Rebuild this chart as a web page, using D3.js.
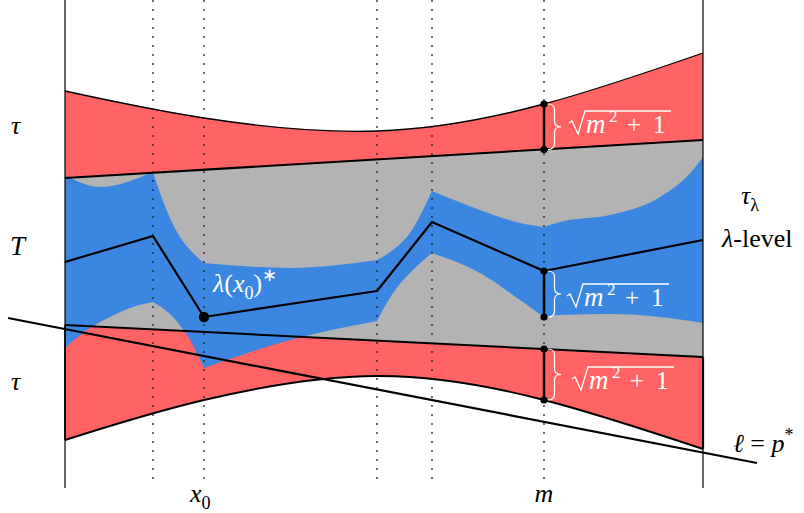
<!DOCTYPE html>
<html><head><meta charset="utf-8">
<script src="https://cdn.jsdelivr.net/npm/d3@7"></script>
<style>body{margin:0;background:#fff}svg{display:block}</style>
</head><body>
<svg id="c" width="804" height="513"></svg>
<script>
// ---------- data (abstract diagram units) ----------
const dottedX = [88, 139, 312, 367, 479];
const frameX = [0, 638];
const upperTauCurve = [[0,397],[139,370],[312,357],[479,384],[638,435]];
const upperTauLine = [[0,310],[638,348]];
const lowerTauLine = [[0,163],[638,131]];
const lowerTauCurve = [[0,48],[139,88],[312,112],[479,88],[638,39]];
const lambdaLevel = [[0,226],[88,252],[139,171],[312,197],[367,266],[479,217],[638,248]];
const pStarLine = [[-57,170],[692,25]];
const blueTopSegs = [
  [[0,313],[35,301],[88,316]],
  [[88,316],[95,295],[115,251],[128,235],[139,225]],
  [[139,225],[225,220],[312,228]],
  [[312,228],[328,238],[345,255],[367,297]],
  [[367,297],[415,278],[455,265],[479,261]],
  [[479,261],[495,266],[545,273],[595,291],[628,318],[638,331]]
];
const blueBottomSegs = [
  [[0,140],[25,160],[45,171],[65,180],[88,186]],
  [[88,186],[108,171],[125,148],[139,120]],
  [[139,120],[225,148],[312,167]],
  [[312,167],[328,195],[345,215],[367,235]],
  [[367,235],[415,215],[455,188],[479,171]],
  [[479,171],[495,173],[545,174],[595,171],[638,165]]
];
const mX = 479;
const mGaps = [[384,338.5],[217,171],[139,88]];
const x0Point = [139,171];
const tickLabels = [{v:139, parts:[{t:"x",i:true},{t:"0",sub:true}]}, {v:479, parts:[{t:"m",i:true}]}];

// ---------- font detection ----------
function pickFont(cands) {
  const cv = document.createElement("canvas").getContext("2d");
  const s = "mmmwwwlliiTTλτ0123";
  for (const base of ["monospace","sans-serif"]) {
    cv.font = "40px " + base; const w0 = cv.measureText(s).width;
    for (const f of cands) {
      cv.font = `40px '${f}', ${base}`;
      if (Math.abs(cv.measureText(s).width - w0) > 0.5) return f;
    }
  }
  return cands[0];
}
const FONT = `'${pickFont(["Liberation Serif","DejaVu Serif","Noto Serif","Times New Roman","Times","FreeSerif","Tinos"])}', serif`;

// ---------- setup ----------
const RED = "#FF6363", BLUE = "#3B86E0", GRAY = "#B3B3B3";
const svg = d3.select("#c");
svg.append("rect").attr("width",804).attr("height",513).attr("fill","#fff");
const x = d3.scaleLinear().domain([0,638]).range([65,703]);
const y = d3.scaleLinear().domain([0,488]).range([488,0]);
const line = (c) => d3.line().x(d=>x(d[0])).y(d=>y(d[1])).curve(c || d3.curveLinear);
const cont = (p) => p.replace(/^M/,"L");
const joinSegs = (segs, c) => segs.map((s,i)=>{ const p = line(c)(s); return i ? cont(p) : p; }).join("");
const rev = (segs) => segs.slice().reverse().map(s=>s.slice().reverse());
const last = (a) => a[a.length-1];

// red top band
svg.append("path")
  .attr("d", line(d3.curveNatural)(upperTauCurve) + cont(line()([last(upperTauCurve), upperTauLine[1], upperTauLine[0], upperTauCurve[0]])) + "Z")
  .attr("fill", RED);
// red bottom band
svg.append("path")
  .attr("d", line(d3.curveNatural)(lowerTauCurve) + cont(line()([last(lowerTauCurve), lowerTauLine[1], lowerTauLine[0], lowerTauCurve[0]])) + "Z")
  .attr("fill", RED);
// gray band
svg.append("path")
  .attr("d", line()([upperTauLine[0], upperTauLine[1], lowerTauLine[1], lowerTauLine[0]]) + "Z")
  .attr("fill", GRAY);
// blue region
svg.append("path")
  .attr("d", joinSegs(blueTopSegs, d3.curveMonotoneX) + cont(joinSegs(rev(blueBottomSegs), d3.curveMonotoneX)) + "Z")
  .attr("fill", BLUE);

// strokes
const stroke = (d, w) => svg.append("path").attr("d", d).attr("fill","none").attr("stroke","#000").attr("stroke-width", w).attr("stroke-linejoin","round");
stroke(line(d3.curveNatural)(upperTauCurve), 1.3);
stroke(line(d3.curveNatural)(lowerTauCurve), 1.9);
stroke(line()(upperTauLine), 2);
stroke(line()(lowerTauLine), 2);
stroke(line()([lowerTauLine[1], last(lowerTauCurve)]), 2.2);
stroke(line()([lowerTauLine[0], lowerTauCurve[0]]), 1.6);
stroke(line()(lambdaLevel), 2.2);
stroke(line()(pStarLine), 2.2);

// frame lines
frameX.forEach(v => svg.append("line").attr("x1",x(v)).attr("x2",x(v)).attr("y1",y(488)).attr("y2",y(0)).attr("stroke","#000").attr("stroke-width",1.2));
// dotted lines
dottedX.forEach(v => svg.append("line").attr("x1",x(v)).attr("x2",x(v)).attr("y1",y(488)).attr("y2",y(4))
  .attr("stroke","#222").attr("stroke-width",1.3).attr("stroke-dasharray","2,7"));

// m segments, dots, braces
mGaps.forEach(g => {
  svg.append("line").attr("x1",x(mX)).attr("x2",x(mX)).attr("y1",y(g[0])).attr("y2",y(g[1])).attr("stroke","#000").attr("stroke-width",2.5);
  g.forEach(v => svg.append("circle").attr("cx",x(mX)).attr("cy",y(v)).attr("r",3.6).attr("fill","#000"));
  const bx = x(mX)+4, y1 = y(g[0]), y2 = y(g[1]), ym = (y1+y2)/2, w = 13, r = 6;
  const d = `M${bx},${y1} Q${bx+w/2},${y1} ${bx+w/2},${y1+r} L${bx+w/2},${ym-r} Q${bx+w/2},${ym} ${bx+w},${ym} Q${bx+w/2},${ym} ${bx+w/2},${ym+r} L${bx+w/2},${y2-r} Q${bx+w/2},${y2} ${bx},${y2}`;
  svg.append("path").attr("d", d).attr("fill","none").attr("stroke","#fff").attr("stroke-width",1.2);
});
svg.append("circle").attr("cx",x(x0Point[0])).attr("cy",y(x0Point[1])).attr("r",5.2).attr("fill","#000");

// ---------- text ----------
function label(px, py, parts, size, fill) {
  const t = svg.append("text").attr("x",px).attr("y",py).attr("font-size",size)
    .attr("fill",fill||"#000").style("font-family",FONT);
  let shift = 0;
  parts.forEach(p => {
    const target = p.sub ? size*0.25 : p.sup ? -size*0.42 : 0;
    const ts = t.append("tspan").text(p.t).attr("dy", target - shift);
    shift = target;
    if (p.i) ts.attr("font-style","italic");
    if (p.sub || p.sup) ts.attr("font-size", size*0.7);
    if (p.dx) ts.attr("dx", p.dx);
  });
  return t;
}
label(11, 134, [{t:"τ",i:true}], 26);
label(10, 255, [{t:"T",i:true}], 27);
label(11, 390, [{t:"τ",i:true}], 26);
label(741, 204, [{t:"τ",i:true},{t:"λ",sub:true}], 26);
label(722, 247, [{t:"λ",i:true},{t:"-level"}], 26);
label(733, 452, [{t:"ℓ",i:true},{t:" = "},{t:"p",i:true},{t:"*",sup:true}], 26);
label(213, 292, [{t:"λ",i:true},{t:"("},{t:"x",i:true},{t:"0",sub:true},{t:")"},{t:"∗",sup:true}], 26, "#fff");
tickLabels.forEach(tl => {
  const t = label(0, 502, tl.parts, 26);
  const bb = t.node().getBBox();
  t.attr("x", x(tl.v) - (tl.parts.length>1 ? 14 : bb.width/2));
});

// sqrt(m^2+1) labels
const sqrtPos = [[569,133],[567,306],[572,389]];
sqrtPos.forEach(([sx, sb]) => {
  svg.append("path").attr("d", `M${sx},${sb-10} L${sx+3},${sb-12} L${sx+9},${sb+1} L${sx+16},${sb-22} L${sx+102},${sb-22}`)
    .attr("fill","none").attr("stroke","#fff").attr("stroke-width",1.3);
  const t = svg.append("text").attr("y",sb).style("font-family",FONT).attr("fill","#fff").attr("font-size",25);
  t.append("tspan").attr("x",sx+17).attr("font-style","italic").attr("font-size",27).text("m");
  t.append("tspan").attr("x",sx+40).attr("dy",-11).attr("font-size",17).text("2");
  t.append("tspan").attr("x",sx+58).attr("dy",11).text("+");
  t.append("tspan").attr("x",sx+84).text("1");
});
</script>
</body></html>
